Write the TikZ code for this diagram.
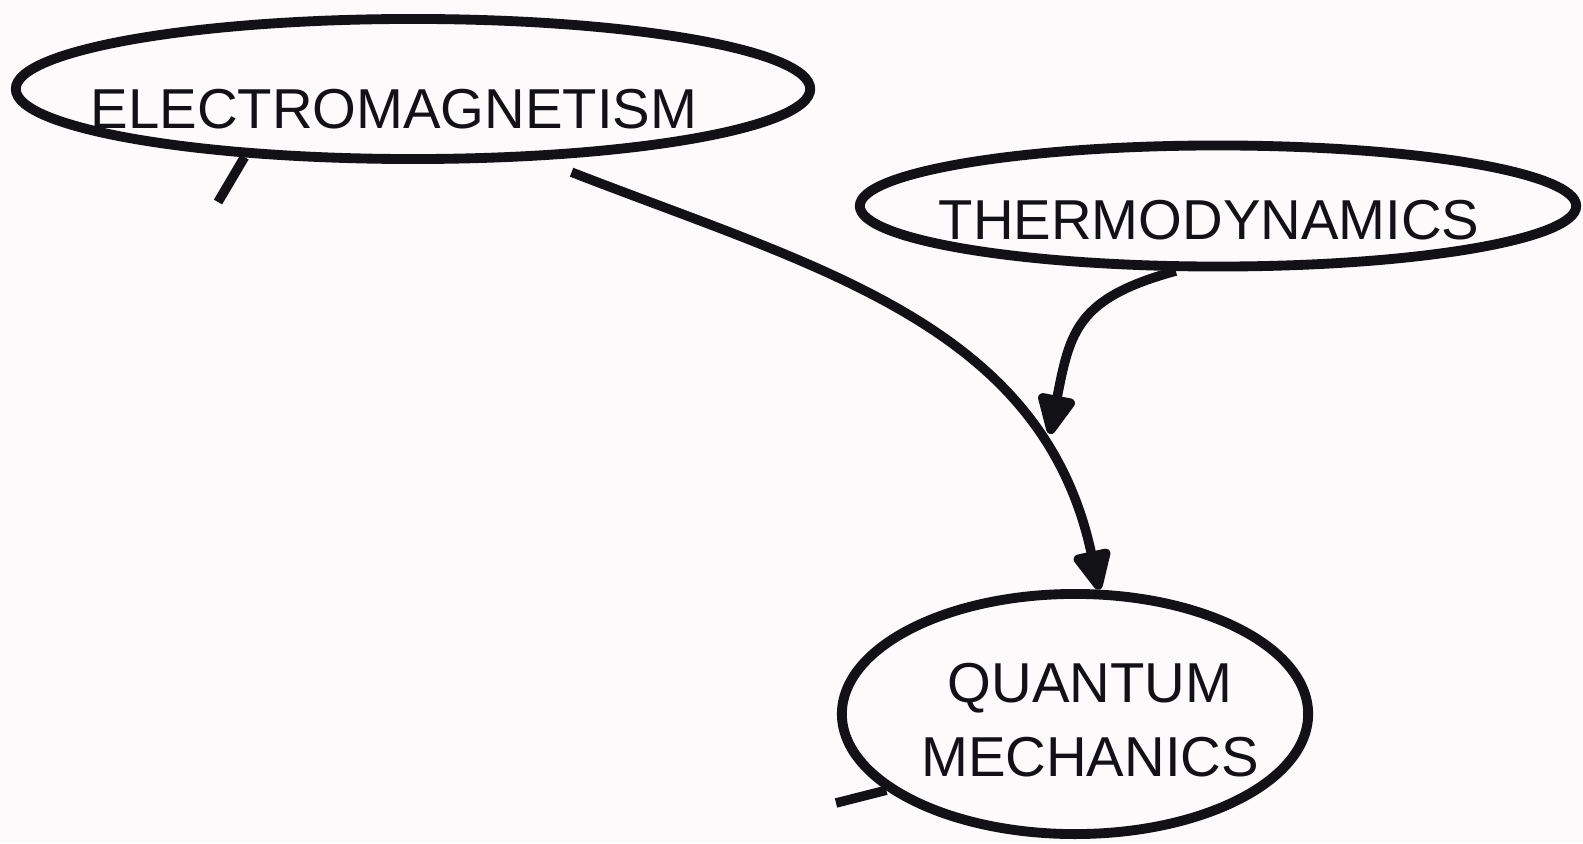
\documentclass[tikz,border=0pt]{standalone}
\usepackage{fontspec}
\setmainfont{Liberation Sans}
\usetikzlibrary{arrows.meta,shapes.geometric}
\definecolor{ink}{HTML}{121216}
\definecolor{paper}{HTML}{FDFAFC}
\tikzset{bubble/.style={ellipse,draw=ink,line width=2.8pt,inner sep=0pt}, word/.style={text=ink,inner sep=0pt,font=\fontsize{16pt}{21pt}\selectfont}, link/.style={-{Triangle[length=4.6mm,width=4mm,round]},line width=2.7pt,draw=ink}, stub/.style={line width=2.7pt,draw=ink}}

\begin{document}
\begin{tikzpicture}[x=0.01cm,y=-0.01cm]
\fill[paper] (0,0) rectangle (1583,843);
\useasboundingbox (0,0) rectangle (1583,843);
\node[bubble,minimum width=7.94cm,minimum height=1.40cm] (em) at (413,89){};
\node[bubble,minimum width=7.16cm,minimum height=1.21cm] (th) at (1218,206){};
\node[bubble,minimum width=4.66cm,minimum height=2.40cm] (qm) at (1075,714){};
\node[word,anchor=base] (emtext) at (394,129){ELECTROMAGNETISM};
\node[word,anchor=base] (thtext) at (1209,240){THERMODYNAMICS};
\node[word,align=center] (qmtext) at (1090,720){QUANTUM\\MECHANICS};
\coordinate (emfree) at (218,202);
\coordinate (qmfree) at (836,803);
\coordinate (hit) at (1050,434);
\draw[stub] (em.202)--(emfree);
\draw[stub] (qm.202)--(qmfree);
\draw[link,shorten <=1mm] ([yshift=-1mm]em.-25) .. controls (818,268) and (1042,324) .. (qm.79);
\draw[link] (th.237) .. controls (1077,298) and (1070,331) .. (hit);
\end{tikzpicture}
\end{document}
